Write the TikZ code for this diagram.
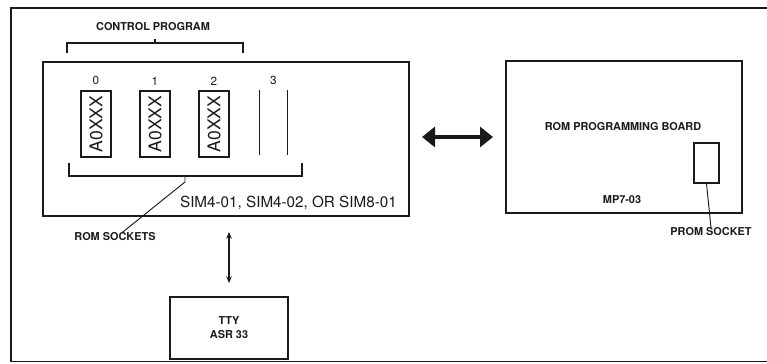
\documentclass[tikz,border=0pt]{standalone}
\usepackage{fontspec}
\setmainfont{TeX Gyre Heros}
\usepackage{graphicx}
\usetikzlibrary{arrows.meta,calc,positioning}
\definecolor{ink}{HTML}{1A1A1A}
\tikzset{
  board/.style={
    draw=ink,
    line width=2.2pt,
    inner sep=0pt,
    outer sep=0pt
  },
  chip/.style={
    draw=ink,
    line width=1.3pt,
    minimum width=0.9cm,
    minimum height=1.98cm,
    inner sep=0pt,
    text=ink,
    font=\fontsize{15}{15}\selectfont
  },
  slotnum/.style={
    text=ink,
    inner sep=0pt,
    font=\fontsize{10}{12}\selectfont
  },
  tag/.style={
    text=ink,
    inner sep=0pt,
    align=center,
    font=\bfseries\fontsize{9.3}{12}\selectfont
  },
  bracket/.style={
    draw=ink,
    line width=1.2pt
  },
  leader/.style={
    draw=ink,
    line width=0.8pt
  },
  frame/.style={
    draw=ink,
    line width=1pt
  },
  linkarrow/.style={
    draw=ink,
    line width=2.6pt,
    {Triangle[length=0.39cm,width=0.6cm]}-{Triangle[length=0.39cm,width=0.6cm]}
  },
  ttyarrow/.style={
    draw=ink,
    line width=0.9pt,
    {Stealth[length=0.2cm,width=0.17cm]}-{Stealth[length=0.2cm,width=0.17cm]}
  }
}
\newcommand{\romchip}[3]{%
  \node[chip] (#1) at (#2,124) {\rotatebox{90}{A0XXX}};
  \node[slotnum, above=0.15cm of #1] (#1num) {#3};
}

\begin{document}
\begin{tikzpicture}[x=0.03cm,y=-0.03cm]
  \useasboundingbox (0,0) rectangle (767,363);

  % --- Frame ---
  \draw[frame] (767,8) -- (11,8) -- (11,361.5) -- (767,361.5);

  % --- Processor board with ROM sockets ---
  \node[board, minimum width=10.98cm, minimum height=4.62cm] (sim) at (226,139) {};
  \romchip{chip0}{96}{0}
  \romchip{chip1}{155}{1}
  \romchip{chip2}{214}{2}
  \node[minimum width=0.81cm, minimum height=1.95cm, inner sep=0pt] (chip3) at (273.5,122.5) {};
  \node[slotnum, above=0.15cm of chip3] (chip3num) {3};
  \draw[bracket] (chip3.north west) -- (chip3.south west);
  \draw[bracket] (chip3.north east) -- (chip3.south east);
  \node[text=ink, inner sep=0pt, anchor=east, font=\fontsize{13}{15}\selectfont]
    (simlbl) at ($(sim.south east)+(-12,-13)$) {SIM4-01, SIM4-02, OR SIM8-01};

  % --- Control program bracket ---
  \draw[bracket] (67,53) -- (67,43) -- (243,43) -- (243,53);
  \draw[bracket] (155,43) -- (155,39);
  \node[tag] (ctrl) at (153,27) {CONTROL PROGRAM};

  % --- ROM sockets bracket ---
  \draw[bracket] (69,163) -- (69,176) -- (302,176) -- (302,163);
  \coordinate (socktick) at (185,176);
  \node[tag] (socklbl) at (115,237) {ROM SOCKETS};
  \draw[leader] (socktick) -- ++(0,6) -- ($(socklbl.north)+(7,0)$);

  % --- ROM programming board ---
  \node[board, minimum width=7.08cm, minimum height=4.56cm] (rom) at (624,137) {};
  \node[tag] (romlbl) at (623,127) {ROM PROGRAMMING BOARD};
  \node[tag] (mplbl) at (622,200) {MP7-03};
  \node[draw=ink, line width=1.3pt, minimum width=0.75cm, minimum height=1.2cm,
    inner sep=0pt] (prom) at (706.5,163) {};
  \node[tag] (promlbl) at (711,232) {PROM SOCKET};
  \draw[leader] (prom.south) -- (promlbl.north);

  % --- Teletype ---
  \node[board, minimum width=3.54cm, minimum height=1.86cm, text=ink,
    align=center, font=\bfseries\fontsize{9.3}{12}\selectfont] (tty) at (229,328)
    {TTY\\ASR 33};

  % --- Links ---
  \draw[linkarrow, shorten <=0.39cm, shorten >=0.39cm] (sim.east |- rom.west) -- (rom.west);
  \draw[ttyarrow, shorten <=0.48cm, shorten >=0.42cm] (sim.south -| tty.north) -- (tty.north);

\end{tikzpicture}
\end{document}
